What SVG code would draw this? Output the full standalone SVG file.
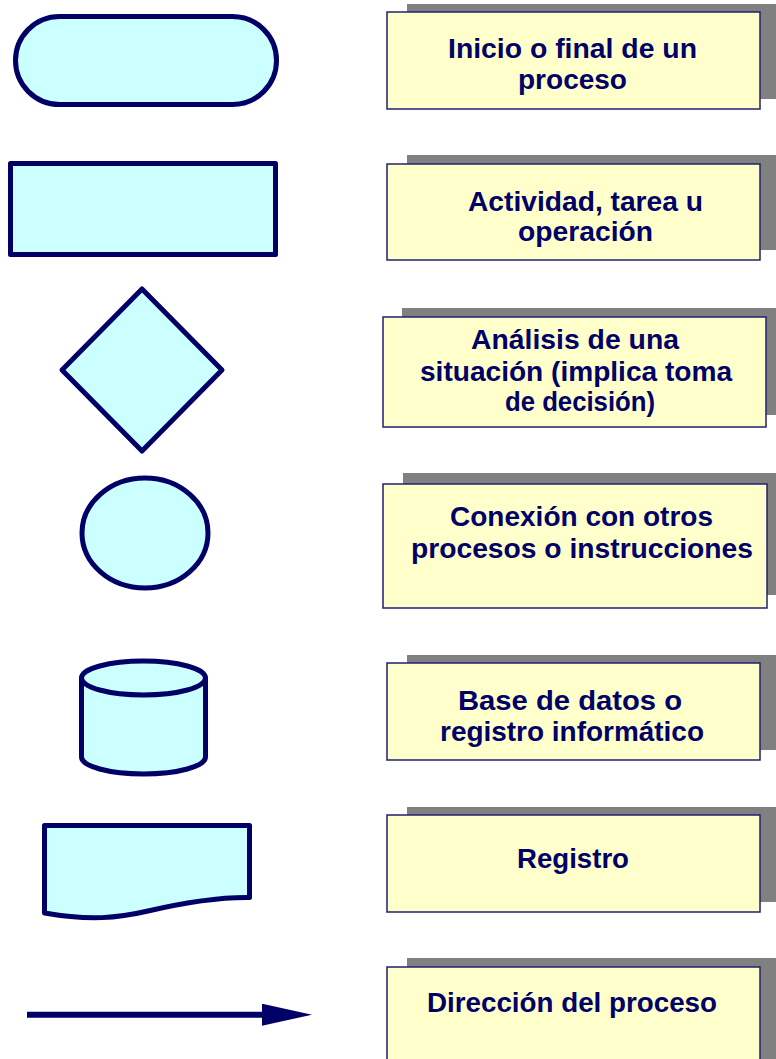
<svg xmlns="http://www.w3.org/2000/svg" width="776" height="1059" viewBox="0 0 776 1059">
<style>
.sym{fill:#CCFFFF;stroke:#000066;stroke-width:5;stroke-linejoin:round}
.shadow{fill:#808080}
.box{fill:#FFFFCC;stroke:#202070;stroke-width:1.5}
.lbl{font-family:"Liberation Sans",Arial,sans-serif;font-weight:bold;font-size:27px;fill:#000066;text-anchor:middle}
</style>
<defs>
<marker id="arrowhead" markerUnits="userSpaceOnUse" markerWidth="50" markerHeight="24" refX="0" refY="11" orient="auto">
<path d="M0,0 L50,11 L0,22 Z" fill="#000066"/>
</marker>
</defs>
<rect width="776" height="1059" fill="#FFFFFF"/>

<g id="sym-terminal"><rect class="sym" x="15.5" y="16.5" width="261" height="88" rx="44" ry="44"/></g>
<g id="sym-process"><rect class="sym" x="10.5" y="163.5" width="265" height="91"/></g>
<g id="sym-decision"><path class="sym" d="M142,289 L222,370 L142,451 L62,370 Z"/></g>
<g id="sym-connector"><ellipse class="sym" cx="145" cy="533" rx="63" ry="55"/></g>
<g id="sym-database">
<path class="sym" d="M81.5,678 L81.5,757 A62,17 0 0 0 205.5,757 L205.5,678 A62,17 0 0 0 81.5,678 Z"/>
<path class="sym" d="M81.5,678 A62,17 0 0 0 205.5,678" fill="none"/>
</g>
<g id="sym-document"><path class="sym" d="M44.5,825.5 H249.5 V897.5 C215,897 178,904 148,911 C118,918 90,921 44.5,913 Z"/></g>
<g id="connectors">
<line x1="27" y1="1014.7" x2="262" y2="1014.7" stroke="#000066" stroke-width="6" marker-end="url(#arrowhead)"/>
</g>

<g id="label-1">
<rect class="shadow" x="407" y="4" width="373" height="95"/>
<rect class="box" x="387" y="12" width="373" height="97"/>
<text class="lbl" x="572.5" y="58" textLength="249" lengthAdjust="spacingAndGlyphs">Inicio o final de un</text>
<text class="lbl" x="572.5" y="89" textLength="109" lengthAdjust="spacingAndGlyphs">proceso</text>
</g>
<g id="label-2">
<rect class="shadow" x="407" y="155" width="373" height="95"/>
<rect class="box" x="387" y="164" width="373" height="96"/>
<text class="lbl" x="585.5" y="211" textLength="235" lengthAdjust="spacingAndGlyphs">Actividad, tarea u</text>
<text class="lbl" x="585.5" y="241" textLength="135" lengthAdjust="spacingAndGlyphs">operación</text>
</g>
<g id="label-3">
<rect class="shadow" x="402" y="308" width="378" height="107"/>
<rect class="box" x="383" y="317" width="383" height="110"/>
<text class="lbl" x="575" y="349" textLength="208" lengthAdjust="spacingAndGlyphs">Análisis de una</text>
<text class="lbl" x="576" y="381" textLength="312" lengthAdjust="spacingAndGlyphs">situación (implica toma</text>
<text class="lbl" x="580" y="411" textLength="150" lengthAdjust="spacingAndGlyphs">de decisión)</text>
</g>
<g id="label-4">
<rect class="shadow" x="403" y="473" width="377" height="122"/>
<rect class="box" x="383" y="484" width="384" height="124"/>
<text class="lbl" x="581.5" y="526" textLength="263" lengthAdjust="spacingAndGlyphs">Conexión con otros</text>
<text class="lbl" x="582" y="558" textLength="342" lengthAdjust="spacingAndGlyphs">procesos o instrucciones</text>
</g>
<g id="label-5">
<rect class="shadow" x="407" y="655" width="373" height="95"/>
<rect class="box" x="387" y="663" width="373" height="97"/>
<text class="lbl" x="570" y="710" textLength="224" lengthAdjust="spacingAndGlyphs">Base de datos o</text>
<text class="lbl" x="572" y="740.5" textLength="264" lengthAdjust="spacingAndGlyphs">registro informático</text>
</g>
<g id="label-6">
<rect class="shadow" x="407" y="807" width="373" height="95"/>
<rect class="box" x="387" y="815" width="373" height="97"/>
<text class="lbl" x="573" y="868" textLength="112" lengthAdjust="spacingAndGlyphs">Registro</text>
</g>
<g id="label-7">
<rect class="shadow" x="407" y="958" width="373" height="110"/>
<rect class="box" x="387" y="967" width="373" height="110"/>
<text class="lbl" x="572" y="1012" textLength="290" lengthAdjust="spacingAndGlyphs">Dirección del proceso</text>
</g>
</svg>
